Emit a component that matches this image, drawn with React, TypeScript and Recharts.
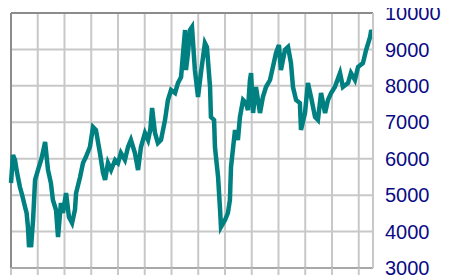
import React from 'react';
import { LineChart, Line, XAxis, YAxis, CartesianGrid, ReferenceLine } from 'recharts';

// x: months since start of series, y: index level
const months = [
  0, 0.9, 1.8, 2.5, 3.1, 4.0, 5.0, 6.3, 7.0, 7.6, 8.1, 8.6, 9.0, 9.9, 10.8, 12.1, 13.5, 14.4, 15.3,
  16.6, 17.9, 18.8, 20.2, 21.1, 22.4, 23.3, 24.7, 26.0, 27.4, 28.7, 29.2, 31.0, 32.3, 33.6, 35.4,
  36.8, 38.1, 39.9, 41.3, 42.2, 43.5, 44.9, 46.7, 48.0, 49.3, 51.1, 52.5, 53.8, 55.6, 57.0, 58.3,
  60.1, 61.5, 62.5, 63.3, 64.6, 65.9, 67.3, 69.1, 70.4, 71.8, 73.6, 74.9, 76.3, 77.2, 78.1, 78.5,
  79.4, 80.3, 81.2, 82.5, 83.9, 85.2, 87.0, 87.9, 89.3, 89.7, 91.1, 91.5, 92.9, 93.8, 94.2, 96.0,
  97.3, 98.2, 98.7, 100.5, 101.8, 102.7, 104.1, 105.4, 106.3, 107.2, 107.7, 108.6, 109.9, 111.7,
  113.0, 114.4, 116.2, 117.5, 118.9, 120.2, 121.1, 122.9, 124.3, 125.6, 126.5, 127.9, 129.6, 130.1,
  131.9, 133.2, 134.6, 136.4, 137.7, 139.1, 140.9, 142.2, 143.6, 145.3, 147.6, 148.9, 151.2, 152.5,
  154.3, 155.7, 157.9, 159.3, 161.1, 161.6, 162.0,
];

const levels = [
  5333, 6102, 5965, 5690, 5498, 5223, 5004, 4674, 4510, 4125, 3576, 3700, 3576, 4318, 5416, 5690, 5965, 6200, 6459,
  5690, 5333, 4867, 4592, 3851, 4784, 4510, 5059, 4400, 4235, 4600, 5059, 5498, 5882, 6047, 6321,
  6870, 6788, 6157, 5608, 5416, 5882, 5690, 5965, 5882, 6157, 5965, 6321, 6514, 6157, 5690, 6321,
  6706, 6514, 6800, 7392, 6706, 6431, 6514, 7063, 7612, 7886, 7804, 8078, 8243, 8902, 9533, 8435,
  8902, 9533, 9615, 8435, 7694, 8353, 9176, 9066, 7968, 7145, 7063, 6321, 5498, 4592, 4125, 4318,
  4510, 4867, 5772, 6788, 6514, 7145, 7612, 7529, 7337, 8161, 8353, 7255, 7968, 7255,
  7694, 7968, 8161, 8517, 8902, 9121, 8435, 8984, 9066, 8627, 7968, 7612, 7529, 6788,
  7255, 8078, 7694, 7145, 7063, 7804, 7255, 7612, 7804, 7968, 8353, 7968, 8078, 8353,
  8161, 8517, 8627, 8984, 9341, 9533, 9451,
];

const yTicks = [3000, 4000, 5000, 6000, 7000, 8000, 9000, 10000];
const xTicks = [0, 12, 24, 36, 48, 60, 72, 84, 96, 108, 120, 132, 144, 156];

const data = months.map((m, i) => ({ m, v: levels[i] }));

export default function App() {
  return (
    <div style={{ margin: '-8px 0 0 -8px', width: 449, height: 278 }}>
      <LineChart width={449} height={278} data={data} margin={{ top: 13, right: 0, bottom: 0, left: 11 }}>
        <CartesianGrid stroke="#c8c8c8" strokeWidth={2} />
        <XAxis
          dataKey="m"
          type="number"
          domain={[0, 162.4]}
          ticks={xTicks}
          interval={0}
          height={10}
          tickSize={7}
          tickLine={{ stroke: '#c8c8c8', strokeWidth: 2 }}
          axisLine={{ stroke: '#a8a8a8', strokeWidth: 2 }}
          tickFormatter={() => ''}
        />
        <YAxis
          orientation="right"
          domain={[3000, 10000]}
          ticks={yTicks}
          interval={0}
          width={76}
          tickLine={false}
          tickSize={6}
          tickMargin={6}
          axisLine={{ stroke: '#c8c8c8', strokeWidth: 2 }}
          tick={{ fill: '#0a0a85', fontSize: 20, fontFamily: 'Liberation Sans, Arial, sans-serif' }}
        />
        <ReferenceLine x={0} stroke="#8c8c8c" strokeWidth={2} />
        <ReferenceLine y={10000} stroke="#8c8c8c" strokeWidth={2} />
        <Line
          type="linear"
          dataKey="v"
          stroke="#008080"
          strokeWidth={4.5}
          dot={false}
          isAnimationActive={false}
        />
      </LineChart>
    </div>
  );
}
